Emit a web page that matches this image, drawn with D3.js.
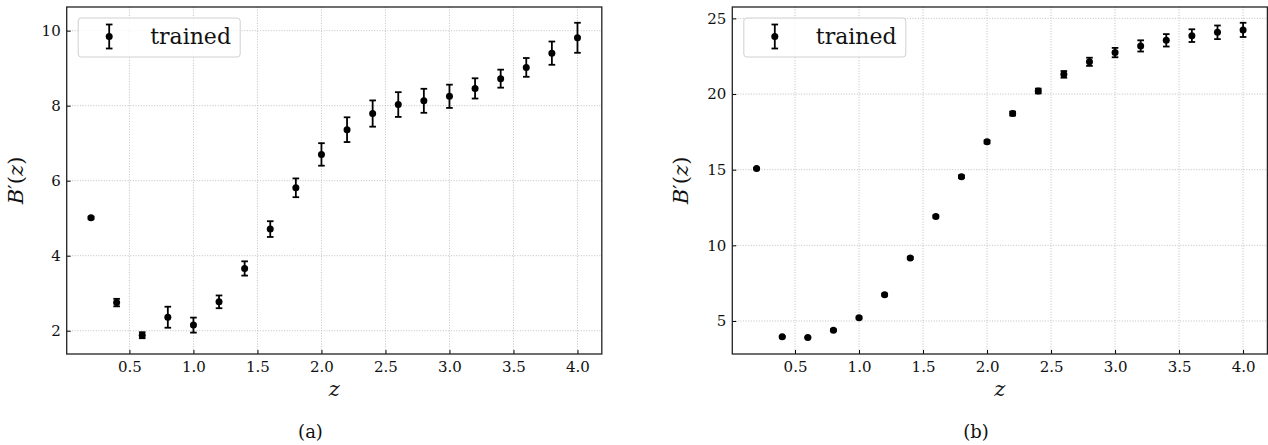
<!DOCTYPE html>
<html><head><meta charset="utf-8">
<script src="https://cdn.jsdelivr.net/npm/d3@7"></script>
<style>
html,body{margin:0;padding:0;background:#fff;}
text{font-family:"DejaVu Serif",serif;}
</style></head>
<body><svg id="fig" width="1268" height="445"></svg>
<script>
// ---- data ----
const zValues = [0.2,0.4,0.6,0.8,1.0,1.2,1.4,1.6,1.8,2.0,2.2,2.4,2.6,2.8,3.0,3.2,3.4,3.6,3.8,4.0];
const bA   = [5.01,2.75,1.88,2.36,2.15,2.77,3.66,4.71,5.81,6.70,7.36,7.79,8.03,8.13,8.25,8.46,8.72,9.02,9.40,9.81];
const errA = [0.03,0.10,0.08,0.28,0.20,0.17,0.19,0.21,0.25,0.30,0.33,0.35,0.33,0.32,0.31,0.27,0.24,0.25,0.31,0.40];
const bB   = [15.07,3.95,3.91,4.39,5.22,6.74,9.17,11.91,14.54,16.84,18.71,20.20,21.30,22.13,22.74,23.18,23.55,23.86,24.08,24.24];
const errB = [0.05,0.05,0.05,0.06,0.07,0.07,0.07,0.08,0.09,0.10,0.13,0.16,0.22,0.27,0.31,0.37,0.41,0.42,0.45,0.47];
const xTicks  = [0.5,1.0,1.5,2.0,2.5,3.0,3.5,4.0];
const yTicksA = [2,4,6,8,10];
const yTicksB = [5,10,15,20,25];
const legendLabel = "trained";
const captions = ["(a)","(b)"];

const svg = d3.select("#fig");

function panel(cfg){
  const {left,right,top,bottom,ys,errs,yTicks,caption,captionX} = cfg;
  const g = svg.append("g");
  const xmin = d3.min(zValues), xmax = d3.max(zValues), xm = (xmax-xmin)*0.05;
  const lo = d3.min(ys.map((v,i)=>v-errs[i])), hi = d3.max(ys.map((v,i)=>v+errs[i])), ym=(hi-lo)*0.05;
  const x = d3.scaleLinear().domain([xmin-xm, xmax+xm]).range([left,right]);
  const y = d3.scaleLinear().domain([lo-ym, hi+ym]).range([bottom,top]);

  // grid
  g.append("g").selectAll("line").data(xTicks).join("line")
    .attr("x1",d=>x(d)).attr("x2",d=>x(d)).attr("y1",top).attr("y2",bottom)
    .attr("stroke","#b0b0b0").attr("stroke-width",0.8).attr("stroke-dasharray","1,1.65");
  g.append("g").selectAll("line").data(yTicks).join("line")
    .attr("y1",d=>y(d)).attr("y2",d=>y(d)).attr("x1",left).attr("x2",right)
    .attr("stroke","#b0b0b0").attr("stroke-width",0.8).attr("stroke-dasharray","1,1.65");

  // axes
  const xa = g.append("g").attr("transform",`translate(0,${bottom})`)
    .call(d3.axisBottom(x).tickValues(xTicks).tickFormat(d3.format(".1f")).tickSizeInner(-4).tickSizeOuter(0).tickPadding(7));
  const ya = g.append("g").attr("transform",`translate(${left},0)`)
    .call(d3.axisLeft(y).tickValues(yTicks).tickFormat(d3.format("d")).tickSizeInner(-4).tickSizeOuter(0).tickPadding(6));
  [xa,ya].forEach(a=>{
    a.select(".domain").remove();
    a.selectAll(".tick line").attr("stroke","#000").attr("stroke-width",1);
    a.selectAll(".tick text").attr("font-family","DejaVu Serif").attr("font-size",15).attr("fill","#111");
  });
  // spines
  g.append("rect").attr("x",left).attr("y",top).attr("width",right-left).attr("height",bottom-top)
    .attr("fill","none").attr("stroke","#222").attr("stroke-width",1.3);

  // error bars
  const pts = zValues.map((z,i)=>({z,v:ys[i],e:errs[i]}));
  const eb = g.append("g");
  eb.selectAll("line.v").data(pts).join("line").attr("class","v")
    .attr("x1",d=>x(d.z)).attr("x2",d=>x(d.z)).attr("y1",d=>y(d.v-d.e)).attr("y2",d=>y(d.v+d.e))
    .attr("stroke","#000").attr("stroke-width",1.8);
  ["lo","hi"].forEach(k=>{
    eb.selectAll("line."+k).data(pts).join("line").attr("class",k)
      .attr("x1",d=>x(d.z)-3.3).attr("x2",d=>x(d.z)+3.3)
      .attr("y1",d=>y(k==="lo"?d.v-d.e:d.v+d.e)).attr("y2",d=>y(k==="lo"?d.v-d.e:d.v+d.e))
      .attr("stroke","#000").attr("stroke-width",1.8);
  });
  eb.selectAll("circle").data(pts).join("circle")
    .attr("cx",d=>x(d.z)).attr("cy",d=>y(d.v)).attr("r",3.5).attr("fill","#000");

  // legend
  const lg = g.append("g");
  lg.append("rect").attr("x",left+11.5).attr("y",top+11).attr("width",162).attr("height",39).attr("rx",3)
    .attr("fill","#fff").attr("fill-opacity",0.8).attr("stroke","#d0d0d0").attr("stroke-width",1);
  const mx = left+42.5, my = top+29.5;
  lg.append("line").attr("x1",mx).attr("x2",mx).attr("y1",my-12).attr("y2",my+12).attr("stroke","#000").attr("stroke-width",1.8);
  lg.append("line").attr("x1",mx-3.3).attr("x2",mx+3.3).attr("y1",my-12).attr("y2",my-12).attr("stroke","#000").attr("stroke-width",1.8);
  lg.append("line").attr("x1",mx-3.3).attr("x2",mx+3.3).attr("y1",my+12).attr("y2",my+12).attr("stroke","#000").attr("stroke-width",1.8);
  lg.append("circle").attr("cx",mx).attr("cy",my).attr("r",3.5).attr("fill","#000");
  lg.append("text").attr("x",left+83.5).attr("y",top+37).attr("font-size",22).attr("fill","#111").text(legendLabel);

  // x label
  g.append("text").attr("x",(left+right)/2).attr("y",bottom+42).attr("text-anchor","middle")
    .attr("font-size",21).attr("font-style","italic").attr("fill","#111").text("z");
  // y label
  const yl = g.append("text").attr("transform",`translate(${left-44},${(top+bottom)/2}) rotate(-90)`)
    .attr("text-anchor","middle").attr("font-size",21).attr("fill","#111");
  yl.append("tspan").attr("font-style","italic").text("B");
  yl.append("tspan").text("′(");
  yl.append("tspan").attr("font-style","italic").text("z");
  yl.append("tspan").text(")");
  // caption
  g.append("text").attr("x",captionX).attr("y",438).attr("text-anchor","middle").attr("font-size",18).attr("fill","#111").text(caption);
}

panel({left:66.7,right:601.8,top:7,bottom:354,ys:bA,errs:errA,yTicks:yTicksA,caption:captions[0],captionX:310.5});
panel({left:732.3,right:1267.4,top:7,bottom:354,ys:bB,errs:errB,yTicks:yTicksB,caption:captions[1],captionX:976});
</script></body></html>
